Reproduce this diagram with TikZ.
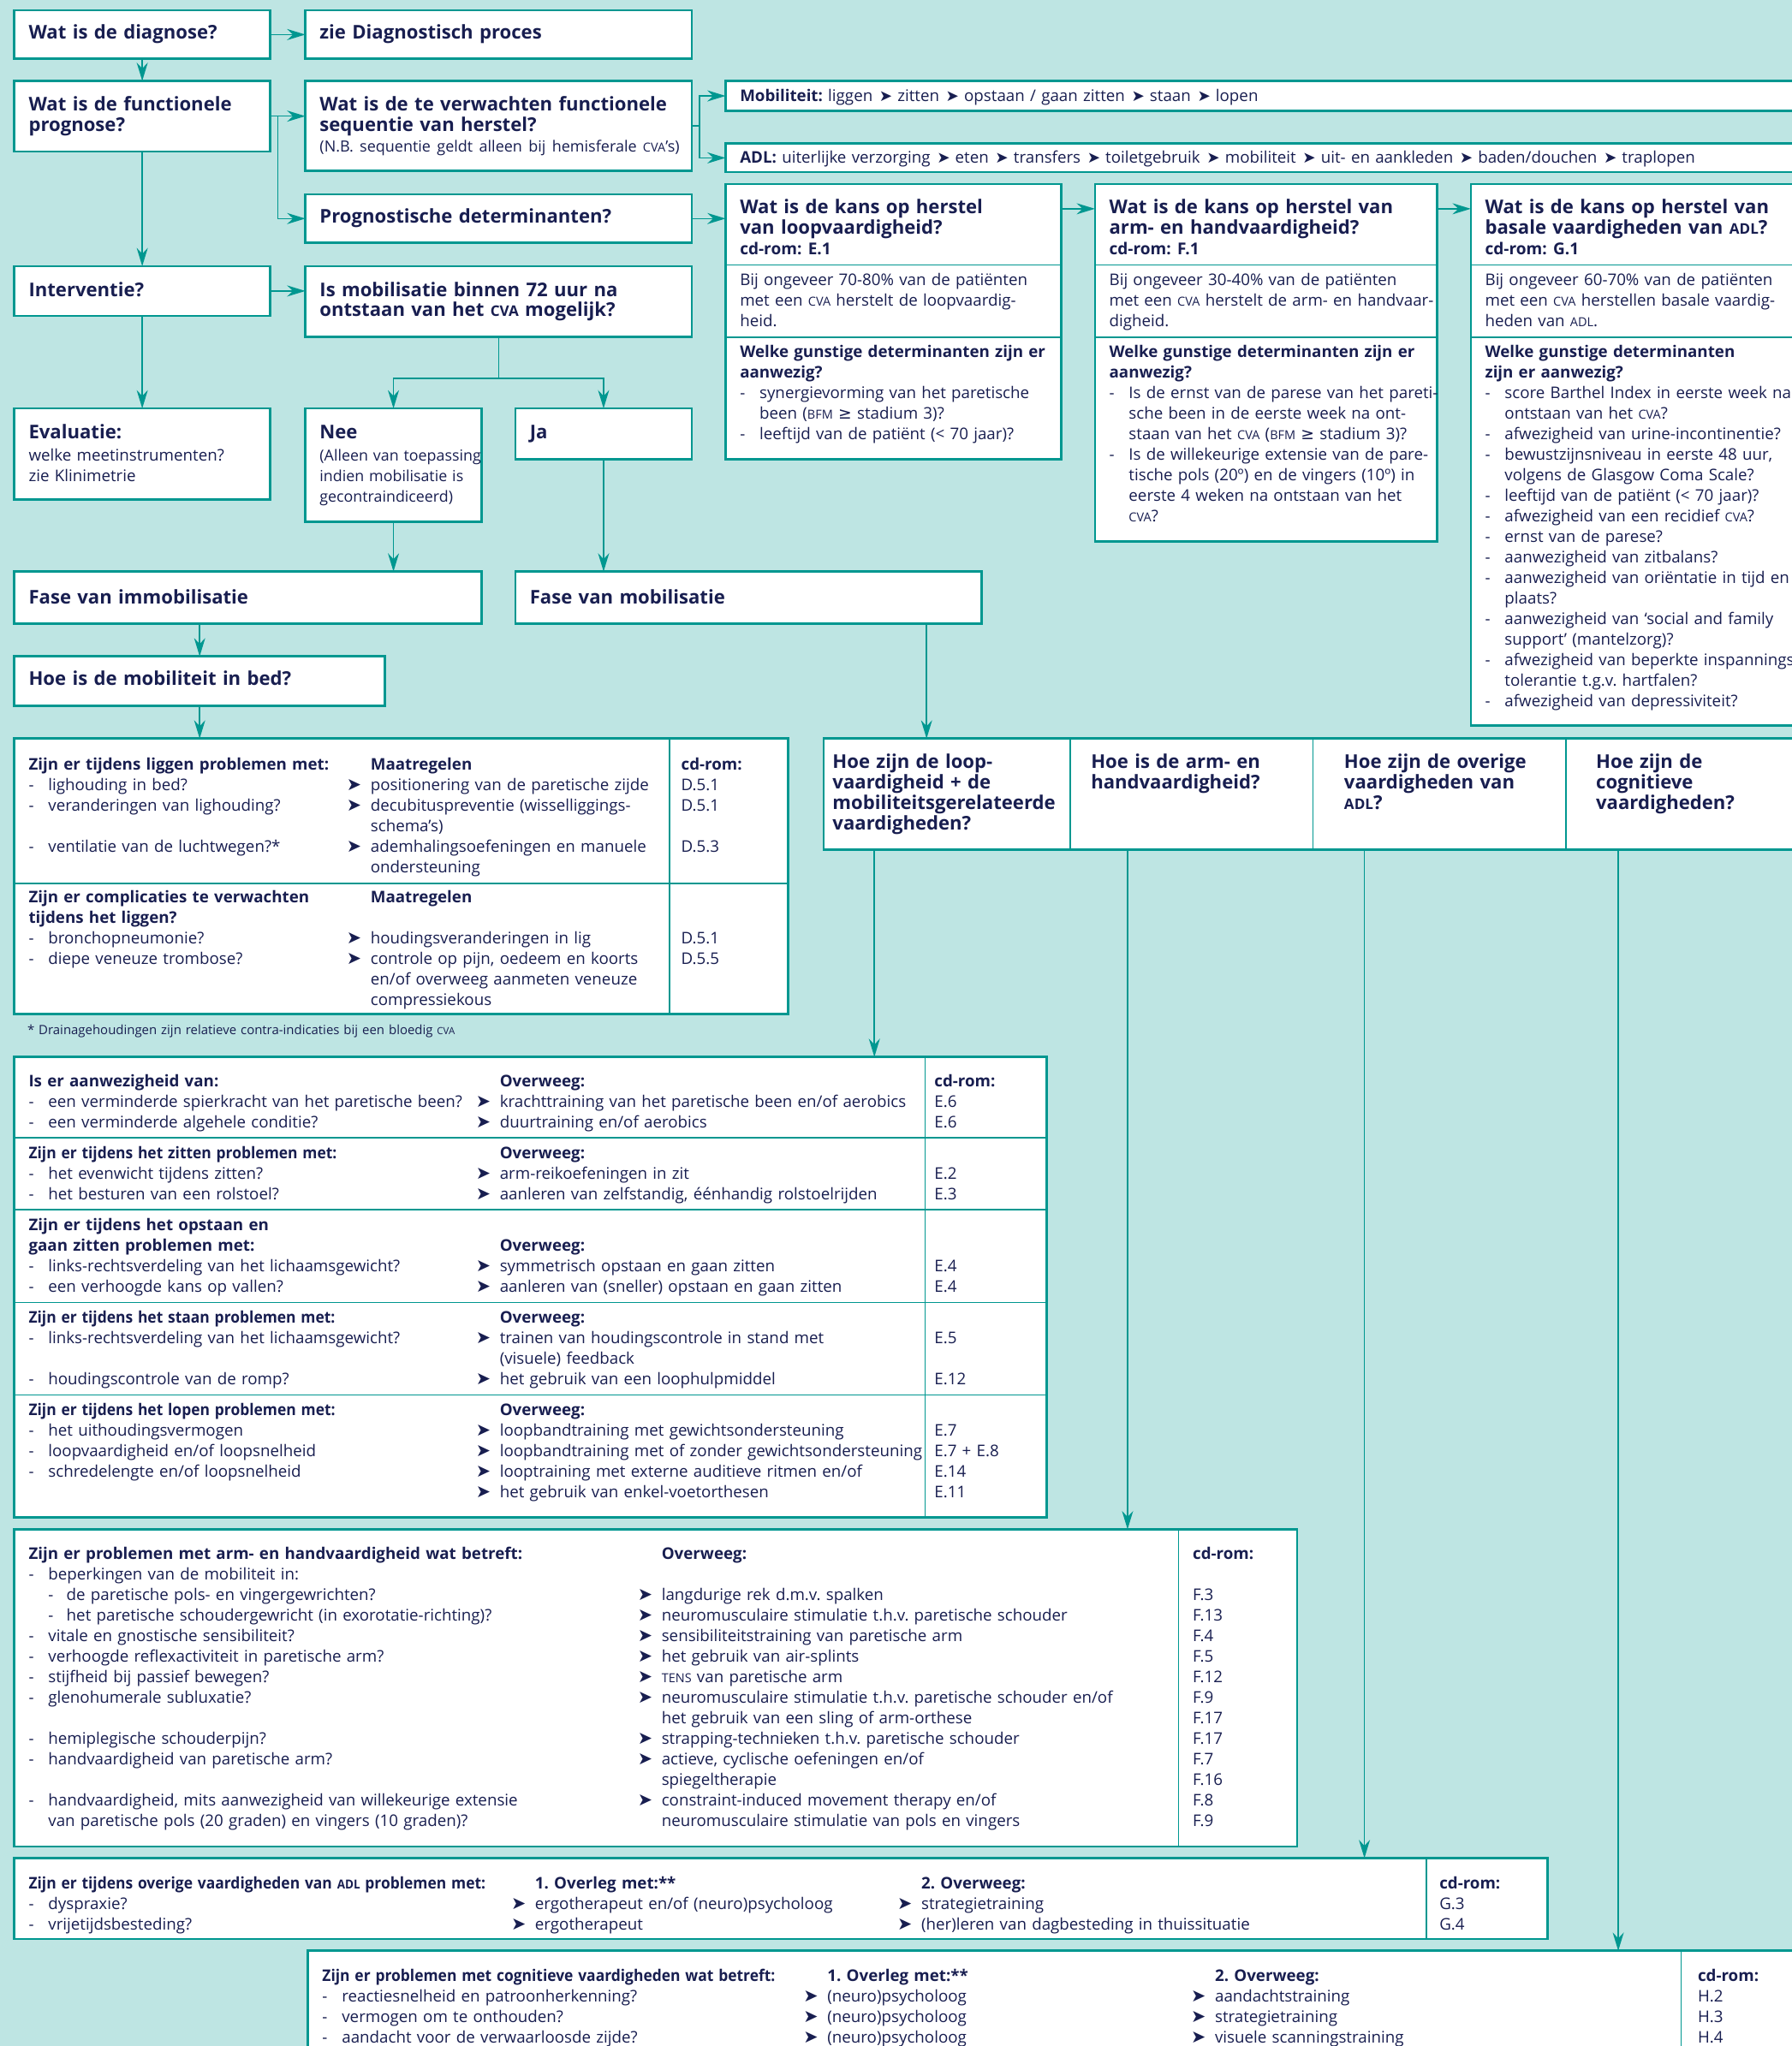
\documentclass[tikz,border=0pt]{standalone}
\usepackage{fontspec}
\usepackage{graphicx}
\setmainfont{Open Sans}
\newfontfamily\symfont{DejaVu Sans}
\usetikzlibrary{arrows.meta,positioning}

\definecolor{achter}{RGB}{190,229,227}
\definecolor{rand}{RGB}{0,151,144}
\definecolor{inkt}{RGB}{24,30,80}

\newcommand\romp{\fontsize{12.3}{15.75}\selectfont}
\newcommand\titel{\fontsize{14.5}{15.6}\selectfont\bfseries}
\newcommand\vet{\fontsize{12.5}{15.6}\selectfont\bfseries}
\newcommand\voet{\fontsize{9.8}{12}\selectfont}
\newcommand\smc[1]{{\fontsize{9.5}{10}\selectfont #1}}
\newcommand\smct[1]{{\fontsize{11.2}{10}\selectfont #1}}
\newcommand\krap[1]{\scalebox{0.93}[1]{\textbf{#1}}}
\newcommand\streep{\makebox[15pt][l]{-}}
\newcommand\substreep{\hspace*{15pt}\makebox[14pt][l]{-}}
\newcommand\inspr{\hspace*{15pt}}
\newcommand\pijl{\leavevmode\llap{{\symfont\fontsize{13.5}{10}\selectfont ➤}\hspace{7pt}}}
\newcommand\pl{\hspace{5pt}{\symfont\fontsize{12}{10}\selectfont ➤}\hspace{4pt}}
\newcommand\gte{{\symfont ≥}}

\begin{document}
\frenchspacing
\begin{tikzpicture}[x=1pt, y=-1pt,
  kader/.style={draw=rand, line width=1.7pt, fill=white, anchor=north west, inner sep=0pt, outer sep=0pt},
  tekst/.style={anchor=base west, inner sep=0pt, outer sep=0pt, text=inkt, font=\romp, text width=1000pt, align=left},
  kop/.style={tekst, font=\titel},
  scheid/.style={draw=rand, line width=0.9pt},
  verb/.style={draw=rand, line width=1pt},
  lijn/.style={verb, -{Stealth[length=14pt, width=8.5pt, inset=4.5pt]}}]

\fill[achter] (0,0) rectangle (1373,1568);
\useasboundingbox (0,0) rectangle (1373,1568);
\clip (0,0) rectangle (1373,1568);

% kaders
\node[kader, minimum width=196pt, minimum height=37pt] (diag) at (11,8) {};
\node[kader, minimum width=296pt, minimum height=37pt] (zie) at (234,8) {};
\node[kader, minimum width=196pt, minimum height=54pt] (prog) at (11,62) {};
\node[kader, minimum width=296pt, minimum height=69pt] (seq) at (234,62) {};
\node[kader, minimum width=296pt, minimum height=37pt] (progdet) at (234,149) {};
\node[kader, minimum width=196pt, minimum height=38pt] (interv) at (11,204) {};
\node[kader, minimum width=296pt, minimum height=54pt] (mobq) at (234,204) {};
\node[kader, minimum width=196pt, minimum height=70pt] (eval) at (11,313) {};
\node[kader, minimum width=135pt, minimum height=87pt] (nee) at (234,313) {};
\node[kader, minimum width=135pt, minimum height=39pt] (ja) at (395,313) {};
\node[kader, minimum width=358pt, minimum height=40pt] (immob) at (11,438) {};
\node[kader, minimum width=357pt, minimum height=40pt] (mob) at (395,438) {};
\node[kader, minimum width=284pt, minimum height=38pt] (bedq) at (11,503) {};
\node[kader, minimum width=593pt, minimum height=211pt] (bedtab) at (11,566) {};
\node[kader, minimum width=830pt, minimum height=23pt] (mobstrip) at (556,62) {};
\node[kader, minimum width=830pt, minimum height=22pt] (adlstrip) at (556,110) {};
\node[kader, minimum width=257pt, minimum height=211pt] (k1) at (556,141) {};
\node[kader, minimum width=262pt, minimum height=274pt] (k2) at (839,141) {};
\node[kader, minimum width=260pt, minimum height=415pt] (k3) at (1127,141) {};
\node[kader, minimum width=760pt, minimum height=85pt] (hoe) at (631,566) {};
\node[kader, minimum width=791pt, minimum height=353pt] (looptab) at (11,810) {};
\node[kader, minimum width=983pt, minimum height=243pt] (armtab) at (11,1172) {};
\node[kader, minimum width=1175pt, minimum height=62pt] (adltab) at (11,1424) {};
\node[kader, minimum width=1160pt, minimum height=120pt] (cogtab) at (236,1495) {};

\draw[scheid] (556,203) -- (813,203) (556,258.5) -- (813,258.5);
\draw[scheid] (839,203) -- (1101,203) (839,258.5) -- (1101,258.5);
\draw[scheid] (1127,203) -- (1387,203) (1127,258.5) -- (1387,258.5);
\draw[scheid] (11,677) -- (604,677) (513,566) -- (513,777);
\draw[scheid] (820,566) -- (820,651) (1006,566) -- (1006,651) (1200,566) -- (1200,651);
\foreach \y in {872,927,998,1069}
  \draw[scheid] (11,\y) -- (802,\y);
\draw[scheid] (709,810) -- (709,1163);
\draw[scheid] (903,1172) -- (903,1415);
\draw[scheid] (1093,1424) -- (1093,1486);
\draw[scheid] (1288,1495) -- (1288,1620);

% teksten bovenaan
\node[kop] (t-diag) at (22,30) {Wat is de diagnose?};
\node[kop] (t-zie) at (245,30) {zie Diagnostisch proces};
\node[kop] (t-prog) at (22,85) {Wat is de functionele\\prognose?};
\node[kop] (t-seq) at (245,85) {Wat is de te verwachten functionele\\sequentie van herstel?\\{\mdseries\fontsize{11.8}{15.6}\selectfont (N.B. sequentie geldt alleen bij hemisferale \smc{CVA}’s)}};
\node[kop] (t-progdet) at (245,171) {Prognostische determinanten?};
\node[kop] (t-interv) at (22,227) {Interventie?};
\node[kop] (t-mobq) at (245,227) {Is mobilisatie binnen 72 uur na\\ontstaan van het \smct{CVA} mogelijk?};
\node[kop] (t-eval) at (22,336) {Evaluatie:};
\node[tekst] (t-eval2) at (22,353) {welke meetinstrumenten?\\zie Klinimetrie};
\node[kop] (t-nee) at (245,336) {Nee};
\node[tekst, font=\fontsize{11.7}{15.75}\selectfont] (t-nee2) at (245,353) {(Alleen van toepassing\\indien mobilisatie is\\gecontraindiceerd)};
\node[kop] (t-ja) at (406,336) {Ja};
\node[kop] (t-immob) at (22,463) {Fase van immobilisatie};
\node[kop] (t-mob) at (406,463) {Fase van mobilisatie};
\node[kop] (t-bedq) at (22,525) {Hoe is de mobiliteit in bed?};

\node[tekst] (t-mobstrip) at (567,78) {\textbf{Mobiliteit:} liggen\pl zitten\pl opstaan / gaan zitten\pl staan\pl lopen};
\node[tekst] (t-adlstrip) at (567,125) {\textbf{ADL:} uiterlijke verzorging\pl eten\pl transfers\pl toiletgebruik\pl mobiliteit\pl uit- en aankleden\pl baden/douchen\pl traplopen};

% kans op herstel
\node[kop] (t-k1) at (567,164) {Wat is de kans op herstel\\van loopvaardigheid?\\{\vet cd-rom: E.1}};
\node[kop] (t-k2) at (850,164) {Wat is de kans op herstel van\\arm- en handvaardigheid?\\{\vet cd-rom: F.1}};
\node[kop] (t-k3) at (1138,164) {Wat is de kans op herstel van\\basale vaardigheden van \smct{ADL}?\\{\vet cd-rom: G.1}};
\node[tekst] (t-k1b) at (567,219) {Bij ongeveer 70-80\% van de patiënten\\met een \smc{CVA} herstelt de loopvaardig-\\heid.};
\node[tekst] (t-k2b) at (850,219) {Bij ongeveer 30-40\% van de patiënten\\met een \smc{CVA} herstelt de arm- en handvaar-\\digheid.};
\node[tekst] (t-k3b) at (1138,219) {Bij ongeveer 60-70\% van de patiënten\\met een \smc{CVA} herstellen basale vaardig-\\heden van \smc{ADL}.};
\node[tekst] (t-k1c) at (567,274) {\textbf{Welke gunstige determinanten zijn er}\\\textbf{aanwezig?}\\\streep synergievorming van het paretische\\\inspr been (\smc{BFM} \gte{} stadium 3)?\\\streep leeftijd van de patiënt (< 70 jaar)?};
\node[tekst] (t-k2c) at (850,274) {\textbf{Welke gunstige determinanten zijn er}\\\textbf{aanwezig?}\\\streep Is de ernst van de parese van het pareti-\\\inspr sche been in de eerste week na ont-\\\inspr staan van het \smc{CVA} (\smc{BFM} \gte{} stadium 3)?\\\streep Is de willekeurige extensie van de pare-\\\inspr tische pols (20º) en de vingers (10º) in\\\inspr eerste 4 weken na ontstaan van het\\\inspr \smc{CVA}?};
\node[tekst] (t-k3c) at (1138,274) {\textbf{Welke gunstige determinanten}\\\textbf{zijn er aanwezig?}\\\streep score Barthel Index in eerste week na\\\inspr ontstaan van het \smc{CVA}?\\\streep afwezigheid van urine-incontinentie?\\\streep bewustzijnsniveau in eerste 48 uur,\\\inspr volgens de Glasgow Coma Scale?\\\streep leeftijd van de patiënt (< 70 jaar)?\\\streep afwezigheid van een recidief \smc{CVA}?\\\streep ernst van de parese?\\\streep aanwezigheid van zitbalans?\\\streep aanwezigheid van oriëntatie in tijd en\\\inspr plaats?\\\streep aanwezigheid van ‘social and family\\\inspr support’ (mantelzorg)?\\\streep afwezigheid van beperkte inspannings-\\\inspr tolerantie t.g.v. hartfalen?\\\streep afwezigheid van depressiviteit?};

% vier vragen
\node[kop] (t-hoe1) at (638,589) {Hoe zijn de loop-\\vaardigheid + de\\mobiliteitsgerelateerde\\vaardigheden?};
\node[kop] (t-hoe2) at (836,589) {Hoe is de arm- en\\handvaardigheid?};
\node[kop] (t-hoe3) at (1030,589) {Hoe zijn de overige\\vaardigheden van\\\smct{ADL}?};
\node[kop] (t-hoe4) at (1223,589) {Hoe zijn de\\cognitieve\\vaardigheden?};

% bed
\node[tekst] (t-bed1a) at (22,590) {\textbf{Zijn er tijdens liggen problemen met:}\\\streep lighouding in bed?\\\streep veranderingen van lighouding?\\\mbox{}\\\streep ventilatie van de luchtwegen?*};
\node[tekst] (t-bed1b) at (284,590) {\textbf{Maatregelen}\\\pijl positionering van de paretische zijde\\\pijl decubituspreventie (wisselliggings-\\schema’s)\\\pijl ademhalingsoefeningen en manuele\\ondersteuning};
\node[tekst] (t-bed1c) at (522,590) {\textbf{cd-rom:}\\D.5.1\\D.5.1\\\mbox{}\\D.5.3};
\node[tekst] (t-bed2a) at (22,692) {\textbf{Zijn er complicaties te verwachten}\\\textbf{tijdens het liggen?}\\\streep bronchopneumonie?\\\streep diepe veneuze trombose?};
\node[tekst] (t-bed2b) at (284,692) {\textbf{Maatregelen}\\\mbox{}\\\pijl houdingsveranderingen in lig\\\pijl controle op pijn, oedeem en koorts\\en/of overweeg aanmeten veneuze\\compressiekous};
\node[tekst] (t-bed2c) at (522,692) {\mbox{}\\\mbox{}\\D.5.1\\D.5.5};
\node[tekst, font=\voet] (t-voet) at (21,793) {* Drainagehoudingen zijn relatieve contra-indicaties bij een bloedig {\fontsize{7.5}{9}\selectfont CVA}};

% lopen
\node[tekst] (t-l1a) at (22,833) {\textbf{Is er aanwezigheid van:}\\\streep een verminderde spierkracht van het paretische been?\\\streep een verminderde algehele conditie?};
\node[tekst] (t-l1b) at (383,833) {\textbf{Overweeg:}\\\pijl krachttraining van het paretische been en/of aerobics\\\pijl duurtraining en/of aerobics};
\node[tekst] (t-l1c) at (716,833) {\textbf{cd-rom:}\\E.6\\E.6};
\node[tekst] (t-l2a) at (22,888) {\krap{Zijn er tijdens het zitten problemen met:}\\\streep het evenwicht tijdens zitten?\\\streep het besturen van een rolstoel?};
\node[tekst] (t-l2b) at (383,888) {\textbf{Overweeg:}\\\pijl arm-reikoefeningen in zit\\\pijl aanleren van zelfstandig, éénhandig rolstoelrijden};
\node[tekst] (t-l2c) at (716,888) {\mbox{}\\E.2\\E.3};
\node[tekst] (t-l3a) at (22,943) {\textbf{Zijn er tijdens het opstaan en}\\\textbf{gaan zitten problemen met:}\\\streep links-rechtsverdeling van het lichaamsgewicht?\\\streep een verhoogde kans op vallen?};
\node[tekst] (t-l3b) at (383,943) {\mbox{}\\\textbf{Overweeg:}\\\pijl symmetrisch opstaan en gaan zitten\\\pijl aanleren van (sneller) opstaan en gaan zitten};
\node[tekst] (t-l3c) at (716,943) {\mbox{}\\\mbox{}\\E.4\\E.4};
\node[tekst] (t-l4a) at (22,1014) {\krap{Zijn er tijdens het staan problemen met:}\\\streep links-rechtsverdeling van het lichaamsgewicht?\\\mbox{}\\\streep houdingscontrole van de romp?};
\node[tekst] (t-l4b) at (383,1014) {\textbf{Overweeg:}\\\pijl trainen van houdingscontrole in stand met\\(visuele) feedback\\\pijl het gebruik van een loophulpmiddel};
\node[tekst] (t-l4c) at (716,1014) {\mbox{}\\E.5\\\mbox{}\\E.12};
\node[tekst] (t-l5a) at (22,1085) {\krap{Zijn er tijdens het lopen problemen met:}\\\streep het uithoudingsvermogen\\\streep loopvaardigheid en/of loopsnelheid\\\streep schredelengte en/of loopsnelheid};
\node[tekst] (t-l5b) at (383,1085) {\textbf{Overweeg:}\\\pijl loopbandtraining met gewichtsondersteuning\\\pijl loopbandtraining met of zonder gewichtsondersteuning\\\pijl looptraining met externe auditieve ritmen en/of\\\pijl het gebruik van enkel-voetorthesen};
\node[tekst] (t-l5c) at (716,1085) {\mbox{}\\E.7\\E.7 + E.8\\E.14\\E.11};

% arm
\node[tekst] (t-arma) at (22,1195) {\textbf{Zijn er problemen met arm- en handvaardigheid wat betreft:}\\\streep beperkingen van de mobiliteit in:\\\substreep de paretische pols- en vingergewrichten?\\\substreep het paretische schoudergewricht (in exorotatie-richting)?\\\streep vitale en gnostische sensibiliteit?\\\streep verhoogde reflexactiviteit in paretische arm?\\\streep stijfheid bij passief bewegen?\\\streep glenohumerale subluxatie?\\\mbox{}\\\streep hemiplegische schouderpijn?\\\streep handvaardigheid van paretische arm?\\\mbox{}\\\streep handvaardigheid, mits aanwezigheid van willekeurige extensie\\\inspr van paretische pols (20 graden) en vingers (10 graden)?};
\node[tekst] (t-armb) at (507,1195) {\textbf{Overweeg:}\\\mbox{}\\\pijl langdurige rek d.m.v. spalken\\\pijl neuromusculaire stimulatie t.h.v. paretische schouder\\\pijl sensibiliteitstraining van paretische arm\\\pijl het gebruik van air-splints\\\pijl \smc{TENS} van paretische arm\\\pijl neuromusculaire stimulatie t.h.v. paretische schouder en/of\\het gebruik van een sling of arm-orthese\\\pijl strapping-technieken t.h.v. paretische schouder\\\pijl actieve, cyclische oefeningen en/of\\spiegeltherapie\\\pijl constraint-induced movement therapy en/of\\neuromusculaire stimulatie van pols en vingers};
\node[tekst] (t-armc) at (914,1195) {\textbf{cd-rom:}\\\mbox{}\\F.3\\F.13\\F.4\\F.5\\F.12\\F.9\\F.17\\F.17\\F.7\\F.16\\F.8\\F.9};

% overige ADL
\node[tekst] (t-adla) at (22,1447.5) {\krap{Zijn er tijdens overige vaardigheden van \smc{ADL} problemen met:}\\\streep dyspraxie?\\\streep vrijetijdsbesteding?};
\node[tekst] (t-adlb) at (410,1447.5) {\textbf{1. Overleg met:**}\\\pijl ergotherapeut en/of (neuro)psycholoog\\\pijl ergotherapeut};
\node[tekst] (t-adlc) at (706,1447.5) {\textbf{2. Overweeg:}\\\pijl strategietraining\\\pijl (her)leren van dagbesteding in thuissituatie};
\node[tekst] (t-adld) at (1103,1447.5) {\textbf{cd-rom:}\\G.3\\G.4};

% cognitief
\node[tekst] (t-coga) at (247,1518.5) {\krap{Zijn er problemen met cognitieve vaardigheden wat betreft:}\\\streep reactiesnelheid en patroonherkenning?\\\streep vermogen om te onthouden?\\\streep aandacht voor de verwaarloosde zijde?};
\node[tekst] (t-cogb) at (634,1518.5) {\textbf{1. Overleg met:**}\\\pijl (neuro)psycholoog\\\pijl (neuro)psycholoog\\\pijl (neuro)psycholoog};
\node[tekst] (t-cogc) at (931,1518.5) {\textbf{2. Overweeg:}\\\pijl aandachtstraining\\\pijl strategietraining\\\pijl visuele scanningstraining};
\node[tekst] (t-cogd) at (1301,1518.5) {\textbf{cd-rom:}\\H.2\\H.3\\H.4};

% verbindingen
\draw[lijn] (diag) -- (zie);
\draw[lijn] (diag) -- (prog);
\draw[lijn] (prog.east) -- (prog.east -| seq.west);
\draw[lijn] ([xshift=6pt]prog.east) |- (progdet.west);
\draw[lijn] (prog) -- (interv);
\draw[lijn] (interv.east) -- (interv.east -| mobq.west);
\draw[lijn] (interv) -- (eval);
\draw[verb] (mobq.south) -- ++(0,32) coordinate (splits);
\draw[lijn] (splits) -| (nee);
\draw[lijn] (splits) -| (ja);
\draw[lijn] (seq.east) -- ++(6,0) |- (mobstrip.west);
\draw[lijn] ([xshift=6pt]seq.east) |- (adlstrip.west);
\draw[lijn] (progdet.east) -- (progdet.east -| k1.west);
\draw[lijn] ([yshift=-19pt]k1.north east) -- ([yshift=-19pt]k2.north west);
\draw[lijn] ([yshift=-19pt]k2.north east) -- ([yshift=-19pt]k3.north west);
\draw[lijn] (nee.south) -- (nee.south |- immob.north);
\draw[lijn] (ja.south) -- (ja.south |- mob.north);
\draw[lijn] (bedq.north |- immob.south) -- (bedq.north);
\draw[lijn] (bedq.south) -- (bedq.south |- bedtab.north);
\draw[lijn] ([xshift=-42pt]mob.south east) -- ([xshift=-42pt]mob.south east |- hoe.north);
\coordinate (uit1) at (670,651);
\coordinate (uit2) at (864,651);
\coordinate (uit3) at (1045.5,651);
\coordinate (uit4) at (1240,651);
\draw[lijn] (uit1) -- (uit1 |- looptab.north);
\draw[lijn] (uit2) -- (uit2 |- armtab.north);
\draw[lijn] (uit3) -- (uit3 |- adltab.north);
\draw[lijn] (uit4) -- (uit4 |- cogtab.north);
\end{tikzpicture}
\end{document}
